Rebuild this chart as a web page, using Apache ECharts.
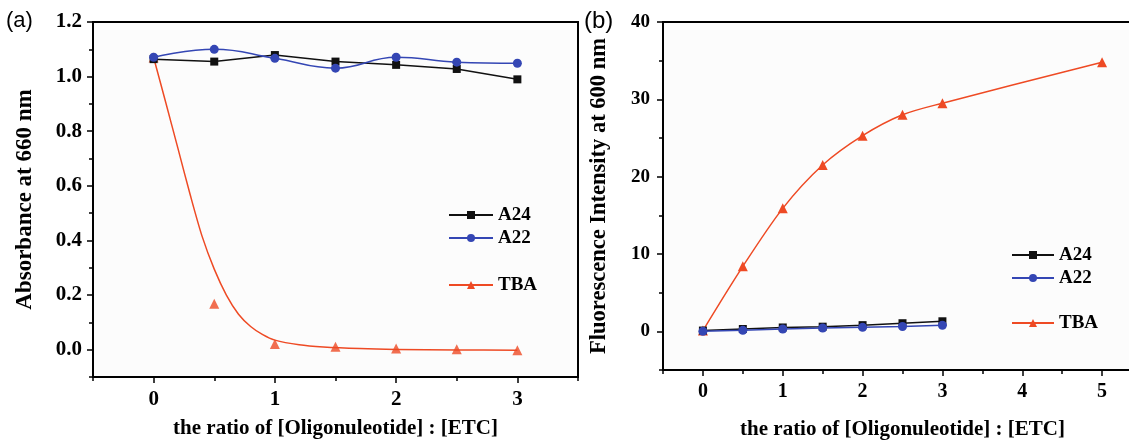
<!DOCTYPE html>
<html>
<head>
<meta charset="utf-8">
<script src="https://cdn.jsdelivr.net/npm/echarts@6/dist/echarts.min.js"></script>
<style>
  html, body { margin: 0; padding: 0; background: #ffffff; }
  #chart { width: 1129px; height: 440px; }
</style>
</head>
<body>
<div id="chart"></div>
<script>
// ---- Panel (a): absorbance at 660 nm ----
const ratioA = [0, 0.5, 1, 1.5, 2, 2.5, 3];
const a24Abs = [1.064, 1.055, 1.079, 1.055, 1.043, 1.028, 0.990];
const a22Abs = [1.071, 1.100, 1.067, 1.031, 1.071, 1.053, 1.049];
const tbaAbs = [1.070, 0.168, 0.021, 0.011, 0.004, 0.002, -0.002];
// fitted decay curve for TBA
const tbaFitRatio = [0, 0.1, 0.2, 0.3, 0.4, 0.5, 0.6, 0.7, 0.8, 0.9, 1.0, 1.2, 1.4, 1.7, 2.0, 2.5, 3.0];
const tbaFitAbs = [1.070, 0.905, 0.738, 0.570, 0.415, 0.295, 0.200, 0.130, 0.085, 0.055, 0.035, 0.018, 0.010, 0.004, 0.001, -0.001, -0.002];

// ---- Panel (b): fluorescence intensity at 600 nm ----
const ratioB = [0, 0.5, 1, 1.5, 2, 2.5, 3];
const a24Fl = [0.1, 0.3, 0.5, 0.6, 0.8, 1.05, 1.3];
const a22Fl = [0, 0.13, 0.3, 0.43, 0.52, 0.62, 0.78];
const ratioTbaB = [0, 0.5, 1, 1.5, 2, 2.5, 3, 5];
const tbaFl = [0.1, 8.4, 15.9, 21.5, 25.3, 28.0, 29.5, 34.8];

// tick positions
const xMajorA = [0, 1, 2, 3];
const xMinorA = [-0.5, 0.5, 1.5, 2.5, 3.5];
const yMajorA = [0, 0.2, 0.4, 0.6, 0.8, 1.0, 1.2];
const yMinorA = [-0.1, 0.1, 0.3, 0.5, 0.7, 0.9, 1.1];
const xMajorB = [0, 1, 2, 3, 4, 5];
const xMinorB = [-0.5, 0.5, 1.5, 2.5, 3.5, 4.5];
const yMajorB = [0, 10, 20, 30, 40];
const yMinorB = [-5, 5, 15, 25, 35];

const xTitle = 'the ratio of [Oligonuleotide] : [ETC]';

const pairs = (xs, ys) => xs.map((x, i) => [x, ys[i]]);

const SERIF = 'Liberation Serif';
const BLACK = '#111111';
const BLUE = '#3446b4';
const RED = '#ee4a24';

const rectA = { left: 93, top: 22, width: 485, height: 355 };
const rectB = { left: 663, top: 22, width: 479, height: 348 };

const labelFont = size => ({ fontFamily: SERIF, fontWeight: 'bold', fontSize: size, color: '#000' });

function majorAxis(dim, gridIndex, min, max, ticks, fmt, margin, size, extra) {
  return Object.assign({
    type: 'value', gridIndex, min, max,
    position: dim === 'x' ? 'bottom' : 'left',
    axisLine: { show: true, onZero: false, lineStyle: { color: '#000', width: 2 } },
    axisTick: { show: true, inside: false, length: 6, customValues: ticks, lineStyle: { color: '#000', width: 1.5 } },
    axisLabel: Object.assign({ show: true, customValues: ticks, formatter: fmt, margin }, labelFont(size)),
    splitLine: { show: false }
  }, extra);
}

// short ticks between the labelled ones, on an overlaid grid of the same size
function minorAxis(dim, gridIndex, min, max, ticks) {
  return {
    type: 'value', gridIndex, min, max,
    position: dim === 'x' ? 'bottom' : 'left',
    axisLine: { show: false, onZero: false },
    axisTick: { show: true, inside: false, length: 4, customValues: ticks, lineStyle: { color: '#000', width: 1.5 } },
    axisLabel: { show: false },
    splitLine: { show: false }
  };
}

function legendBlock(names, left, top, width, textGap) {
  return {
    data: names, orient: 'vertical', left, top, padding: 0,
    itemWidth: width, itemHeight: 10, itemGap: 1, itemTextGap: textGap,
    textStyle: Object.assign({ lineHeight: 22 }, labelFont(19))
  };
}

const fixedGrid = (rect, extra) => Object.assign({ outerBoundsMode: 'none', containLabel: false }, rect, extra);

const chart = echarts.init(document.getElementById('chart'), null, { renderer: 'canvas' });

chart.setOption({
  animation: false,
  backgroundColor: '#ffffff',
  grid: [
    fixedGrid(rectA, { show: true, borderColor: '#000', borderWidth: 2, backgroundColor: '#fcfcfc' }),
    fixedGrid(rectB, { show: true, borderColor: '#000', borderWidth: 2, backgroundColor: '#fcfcfc' }),
    fixedGrid(rectA, { show: false }),
    fixedGrid(rectB, { show: false })
  ],
  xAxis: [
    majorAxis('x', 0, -0.5, 3.5, xMajorA, v => String(v), 12, 21, {
      name: xTitle, nameLocation: 'middle', nameGap: 41, nameTextStyle: labelFont(21)
    }),
    majorAxis('x', 1, -0.5, 5.5, xMajorB, v => String(v), 12, 20, {
      name: xTitle, nameLocation: 'middle', nameGap: 49, nameTextStyle: labelFont(21)
    }),
    minorAxis('x', 2, -0.5, 3.5, xMinorA),
    minorAxis('x', 3, -0.5, 5.5, xMinorB)
  ],
  yAxis: [
    majorAxis('y', 0, -0.1, 1.2, yMajorA, v => v.toFixed(1), 11, 21, {
      name: 'Absorbance at 660 nm', nameLocation: 'middle', nameGap: 56, nameRotate: 90,
      nameTextStyle: labelFont(23)
    }),
    majorAxis('y', 1, -5, 40, yMajorB, v => String(v), 13, 19, {
      name: 'Fluorescence Intensity at 600 nm', nameLocation: 'middle', nameGap: 52, nameRotate: 90,
      nameTextStyle: labelFont(22.5)
    }),
    minorAxis('y', 2, -0.1, 1.2, yMinorA),
    minorAxis('y', 3, -5, 40, yMinorB)
  ],
  legend: [
    legendBlock(['A24', 'A22'], 448, 204, 44, 6),
    legendBlock(['TBA'], 448, 274, 44, 6),
    legendBlock(['A24', 'A22'], 1011, 244, 42, 7),
    legendBlock(['TBA'], 1011, 312, 42, 7)
  ],
  graphic: [
    { type: 'text', left: 6, top: 10, style: { text: '(a)', font: '22px "Liberation Sans"', fill: '#000' } },
    { type: 'text', left: 584, top: 9, style: { text: '(b)', font: '24px "Liberation Sans"', fill: '#000' } }
  ],
  series: [
    // panel (a)
    {
      name: 'TBA', type: 'line', xAxisIndex: 0, yAxisIndex: 0,
      data: pairs(tbaFitRatio, tbaFitAbs), smooth: 0.3, showSymbol: false, symbol: 'triangle',
      lineStyle: { color: RED, width: 1.5 }, itemStyle: { color: RED }, z: 2
    },
    {
      name: 'TBA', type: 'scatter', xAxisIndex: 0, yAxisIndex: 0,
      data: pairs(ratioA, tbaAbs), symbol: 'triangle', symbolSize: 10,
      itemStyle: { color: RED }, z: 3
    },
    {
      name: 'A24', type: 'line', xAxisIndex: 0, yAxisIndex: 0,
      data: pairs(ratioA, a24Abs), symbol: 'rect', symbolSize: 8,
      lineStyle: { color: BLACK, width: 1.5 }, itemStyle: { color: BLACK }, z: 4
    },
    {
      name: 'A22', type: 'line', xAxisIndex: 0, yAxisIndex: 0,
      data: pairs(ratioA, a22Abs), smooth: 0.45, symbol: 'circle', symbolSize: 9,
      lineStyle: { color: BLUE, width: 1.5 }, itemStyle: { color: BLUE }, z: 5
    },
    // panel (b)
    {
      name: 'TBA', type: 'line', xAxisIndex: 1, yAxisIndex: 1,
      data: pairs(ratioTbaB, tbaFl), smooth: 0.3, symbol: 'triangle', symbolSize: 10,
      lineStyle: { color: RED, width: 1.5 }, itemStyle: { color: RED }, z: 2
    },
    {
      name: 'A24', type: 'line', xAxisIndex: 1, yAxisIndex: 1,
      data: pairs(ratioB, a24Fl), symbol: 'rect', symbolSize: 8,
      lineStyle: { color: BLACK, width: 1.5 }, itemStyle: { color: BLACK }, z: 3
    },
    {
      name: 'A22', type: 'line', xAxisIndex: 1, yAxisIndex: 1,
      data: pairs(ratioB, a22Fl), symbol: 'circle', symbolSize: 9,
      lineStyle: { color: BLUE, width: 1.5 }, itemStyle: { color: BLUE }, z: 4
    }
  ]
});
</script>
</body>
</html>
